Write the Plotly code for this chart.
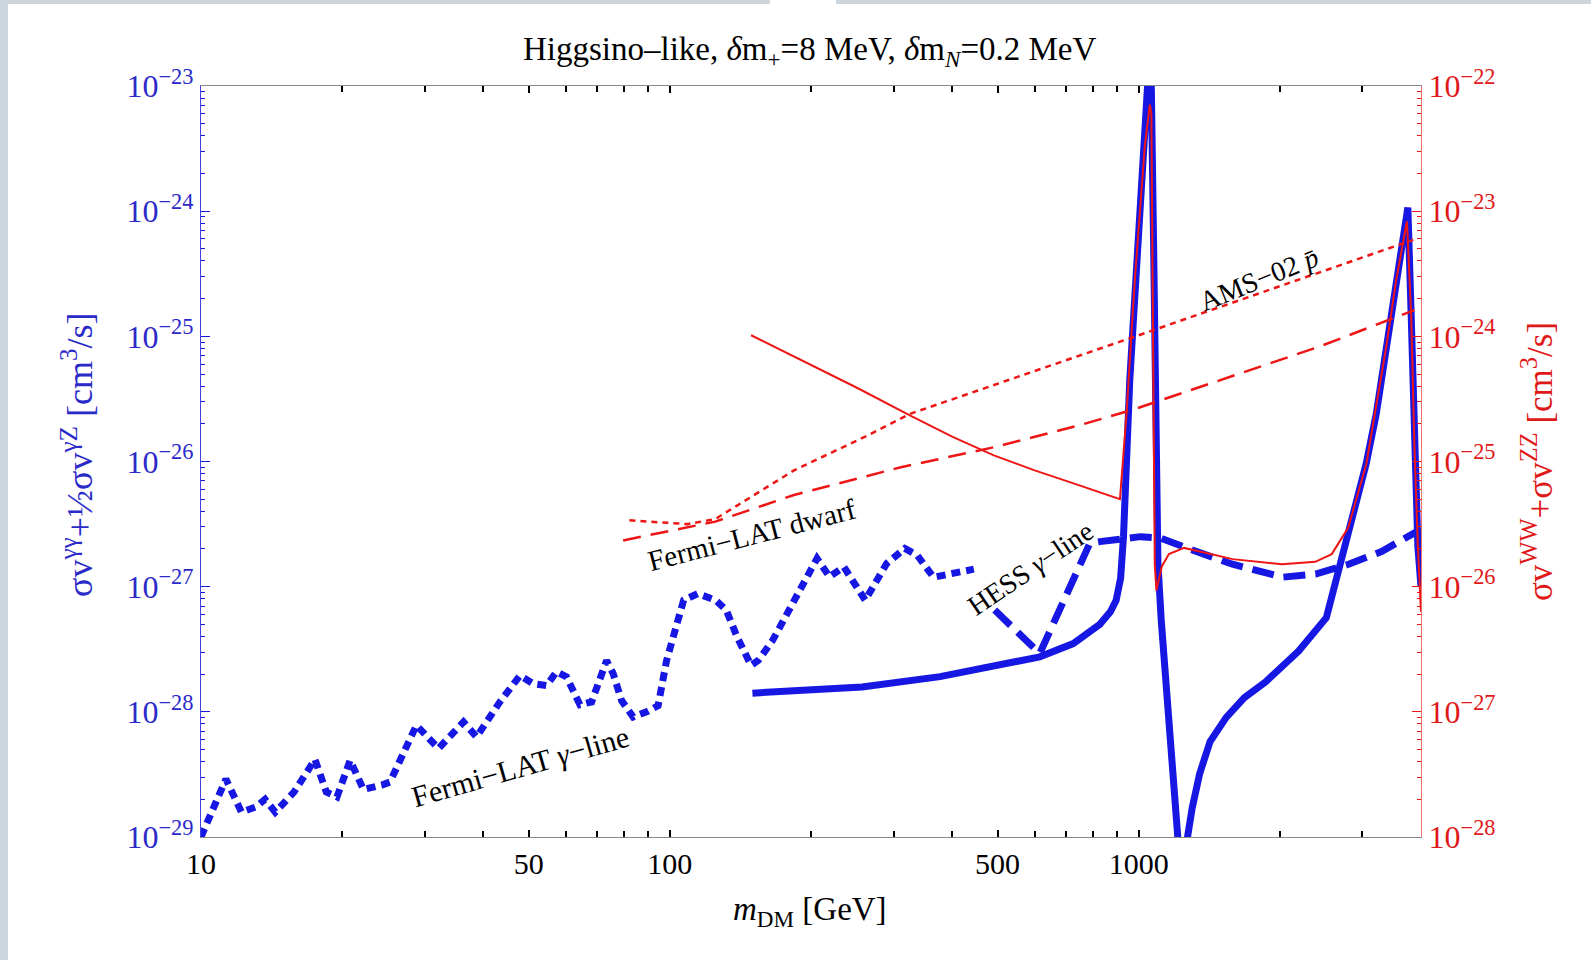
import plotly.graph_objects as go

# ---------------- data ----------------
# Fermi-LAT gamma-line limit (left axis)
fermi_line_x = [10.0, 11.3, 12.2, 13.1, 13.7, 14.4, 15.8, 17.5, 18.5, 19.5, 20.8, 22.2, 24.3, 25.3,
                28.8, 32.1, 36.3, 38.7, 43.4, 47.9, 51.1, 54.6, 57.3, 60.2, 64.3, 68.1, 73.3, 75.7,
                78.9, 83.5, 89.2, 94.4, 98.4, 107, 114.7, 125.2, 131.9, 139, 149, 154.5, 165.7, 184,
                206, 219, 235, 261, 290, 317, 337, 365, 445]
fermi_line_y = [1.0e-29, 2.9e-29, 1.58e-29, 1.74e-29, 2.0e-29, 1.58e-29, 2.29e-29, 4.17e-29, 2.29e-29,
                2.09e-29, 4.1e-29, 2.4e-29, 2.6e-29, 2.75e-29, 7.8e-29, 5.1e-29, 8.3e-29, 6.3e-29,
                1.2e-28, 1.95e-28, 1.68e-28, 1.62e-28, 2.09e-28, 1.9e-28, 1.14e-28, 1.2e-28, 2.57e-28,
                2.02e-28, 1.23e-28, 9.1e-29, 1.0e-28, 1.12e-28, 2.57e-28, 7.8e-28, 8.8e-28, 7.8e-28,
                6.5e-28, 4.0e-28, 2.35e-28, 2.58e-28, 3.73e-28, 7.8e-28, 1.68e-27, 1.2e-27, 1.44e-27,
                7.8e-28, 1.53e-27, 2.02e-27, 1.78e-27, 1.19e-27, 1.38e-27]

# HESS gamma-line limit (left axis)
hess_x = [493, 615, 786, 826, 1009, 1111, 1265, 1585, 2027, 2384, 2803, 3296, 3873, 4000]
hess_y = [6.5e-28, 2.92e-28, 2.21e-27, 2.29e-27, 2.51e-27, 2.45e-27, 2.04e-27, 1.51e-27,
          1.19e-27, 1.26e-27, 1.51e-27, 1.91e-27, 2.69e-27, 2.82e-27]

# Higgsino-like prediction, gamma-gamma + gamma-Z/2 (left axis)
higgsino_line_x = [150, 200, 257, 377, 481, 615, 725, 769, 826, 870, 895, 915, 928, 957, 997, 1038,
                   1060, 1076, 1087, 1099, 1117, 1211, 1240, 1271, 1300, 1349, 1420, 1537, 1680,
                   1866, 2193, 2513, 2638, 2772, 2911, 3057, 3212, 3373, 3541, 3750, 3811, 3873,
                   3939, 4000]
higgsino_line_y = [1.41e-28, 1.48e-28, 1.58e-28, 1.91e-28, 2.29e-28, 2.75e-28, 3.51e-28, 4.1e-28,
                   5.0e-28, 6.3e-28, 7.76e-28, 1.17e-27, 2.51e-27, 4.47e-26, 5.19e-25, 6.03e-24,
                   2.5e-23, 5.19e-25, 2.45e-26, 1.53e-27, 5.37e-28, 1.0e-29, 3.2e-30, 1.0e-29,
                   1.7e-29, 3.21e-29, 5.8e-29, 9.03e-29, 1.3e-28, 1.74e-28, 3.06e-28, 5.65e-28,
                   1.12e-27, 2.34e-27, 4.34e-27, 9.64e-27, 2.42e-26, 8.32e-26, 2.82e-25, 1.07e-24,
                   1.51e-25, 1.32e-26, 2.09e-27, 1.0e-27]

# Higgsino-like prediction, WW + ZZ (right axis)
higgsino_ww_x = [149, 200, 250, 325, 400, 491, 600, 700, 800, 870, 912, 942, 981, 1030, 1056, 1064,
                 1072, 1082, 1091, 1120, 1160, 1250, 1350, 1585, 2023, 2380, 2580, 2797, 3057,
                 3373, 3541, 3733, 3811, 3873, 3939, 4000]
higgsino_ww_y = [1.02e-24, 5.9e-25, 3.9e-25, 2.34e-25, 1.58e-25, 1.12e-25, 8.5e-26, 7.0e-26,
                 5.9e-26, 5.3e-26, 5.0e-26, 2.42e-25, 2.82e-24, 3.27e-23, 7.1e-23, 6.0e-23, 1.51e-24,
                 1.51e-26, 9.3e-27, 1.45e-26, 1.82e-26, 2.04e-26, 1.91e-26, 1.66e-26, 1.51e-26,
                 1.58e-26, 1.82e-26, 2.95e-26, 9.5e-26, 8.3e-25, 2.82e-24, 8.3e-24, 1.51e-24,
                 1.32e-25, 2.09e-26, 6.3e-27]

# AMS-02 antiproton limit (right axis)
ams_x = [82, 109, 125, 184, 261, 325, 1000, 2432, 3850]
ams_y = [3.39e-26, 3.16e-26, 3.47e-26, 8.5e-26, 1.58e-25, 2.4e-25, 1.02e-24, 3.24e-24, 5.9e-24]

# Fermi-LAT dwarf limit (right axis)
dwarf_x = [79.5, 125, 184, 311, 491, 748, 974, 2432, 3873]
dwarf_y = [2.34e-26, 3.31e-26, 5.4e-26, 9.0e-26, 1.3e-25, 1.95e-25, 2.6e-25, 8.3e-25, 1.62e-24]

# ticks
x_tick_vals = [10, 50, 100, 500, 1000]
x_tick_text = ["10", "50", "100", "500", "1000"]
left_exponents = [-29, -28, -27, -26, -25, -24, -23]
right_exponents = [-28, -27, -26, -25, -24, -23, -22]

# ---------------- styling ----------------
FONT = "Liberation Serif, Times New Roman, serif"
BLUE = "#1717e3"
BLUE_TXT = "#2a2ac8"
RED = "#ee1515"
RED_TXT = "#e01818"
W, H = 1591, 960
PL, PR, PT, PB = 201, 1421, 86, 837   # plot-area pixel edges


def xp(px):
    return (px - PL) / (PR - PL)


def yp(py):
    return (PB - py) / (PB - PT)


def minor_vals(lo, hi):
    return [m * 10.0 ** e for e in range(lo, hi) for m in range(2, 10)]


fig = go.Figure()

fig.add_trace(go.Scatter(x=fermi_line_x, y=fermi_line_y, mode="lines", yaxis="y",
                         line=dict(color=BLUE, width=7, dash="9px,6px")))
fig.add_trace(go.Scatter(x=hess_x, y=hess_y, mode="lines", yaxis="y",
                         line=dict(color=BLUE, width=7, dash="22px,10px")))
fig.add_trace(go.Scatter(x=higgsino_line_x, y=higgsino_line_y, mode="lines", yaxis="y",
                         line=dict(color=BLUE, width=7)))
fig.add_trace(go.Scatter(x=ams_x, y=ams_y, mode="lines", yaxis="y2",
                         line=dict(color=RED, width=2.5, dash="6px,5px")))
fig.add_trace(go.Scatter(x=dwarf_x, y=dwarf_y, mode="lines", yaxis="y2",
                         line=dict(color=RED, width=2.5, dash="18px,10px")))
fig.add_trace(go.Scatter(x=higgsino_ww_x, y=higgsino_ww_y, mode="lines", yaxis="y2",
                         line=dict(color=RED, width=2)))

x_minor = [v for v in minor_vals(1, 4) if v < 4000 and v not in (50, 500)]

fig.update_layout(
    width=W, height=H,
    margin=dict(l=PL, r=W - PR, t=PT, b=H - PB, pad=0),
    paper_bgcolor="white", plot_bgcolor="white",
    showlegend=False,
    font=dict(family=FONT, size=28, color="black"),
    xaxis=dict(type="log", range=[1, 3.60206], showgrid=False, zeroline=False,
               showline=True, linecolor="#8a8a8a", linewidth=1.2, mirror="ticks",
               ticks="inside", ticklen=7, tickwidth=1.5, tickcolor="black",
               tickvals=x_tick_vals, ticktext=x_tick_text,
               tickfont=dict(family=FONT, size=30, color="black"),
               minor=dict(ticks="inside", ticklen=6, tickwidth=1.5, tickcolor="black",
                          tickvals=x_minor, showgrid=False)),
    yaxis=dict(type="log", range=[-29, -23], showgrid=False, zeroline=False,
               showline=True, linecolor="#4040e0", linewidth=1.2,
               ticks="inside", ticklen=9, tickwidth=1.2, tickcolor=BLUE,
               tickvals=[10.0 ** e for e in left_exponents],
               ticktext=["10<sup>\u2212%d</sup>" % (-e) for e in left_exponents],
               tickfont=dict(family=FONT, size=32, color=BLUE_TXT),
               minor=dict(ticks="inside", ticklen=4, tickwidth=1, tickcolor=BLUE,
                          tickvals=minor_vals(-29, -23), showgrid=False)),
    yaxis2=dict(type="log", range=[-28, -22], overlaying="y", side="right",
                showgrid=False, zeroline=False,
                showline=True, linecolor="#f07070", linewidth=1.2,
                ticks="inside", ticklen=9, tickwidth=1.2, tickcolor=RED,
                tickvals=[10.0 ** e for e in right_exponents],
                ticktext=["10<sup>\u2212%d</sup>" % (-e) for e in right_exponents],
                tickfont=dict(family=FONT, size=32, color=RED_TXT),
                minor=dict(ticks="inside", ticklen=4, tickwidth=1, tickcolor=RED,
                           tickvals=minor_vals(-28, -22), showgrid=False)),
)

# grey page border (left strip and top strip with a gap)
band = "rgb(205,214,221)"
shapes = [
    dict(type="rect", xref="paper", yref="paper", x0=xp(0), x1=xp(8), y0=yp(H), y1=yp(0),
         fillcolor=band, line=dict(width=0), layer="below"),
    dict(type="rect", xref="paper", yref="paper", x0=xp(0), x1=xp(770), y0=yp(4), y1=yp(0),
         fillcolor=band, line=dict(width=0), layer="below"),
    dict(type="rect", xref="paper", yref="paper", x0=xp(836), x1=xp(W), y0=yp(4), y1=yp(0),
         fillcolor=band, line=dict(width=0), layer="below"),
]
fig.update_layout(shapes=shapes)


def ann(text, x, y, size=28, color="black", angle=0):
    fig.add_annotation(text=text, xref="paper", yref="paper", x=xp(x), y=yp(y),
                       xanchor="center", yanchor="middle", showarrow=False,
                       textangle=angle, font=dict(family=FONT, size=size, color=color))


ann("Higgsino\u2013like, <i>\u03b4</i>m<sub>+</sub>=8 MeV, <i>\u03b4</i>m<sub><i>N</i></sub>=0.2 MeV",
    810, 52, size=33)
ann("<i>m</i><sub>DM</sub> [GeV]", 810, 911, size=33)
ann("\u03c3v<sup>\u03b3\u03b3</sup>+\u00bd\u03c3v<sup>\u03b3Z</sup> [cm<sup>3</sup>/s]",
    78, 455, size=36, color=BLUE_TXT, angle=-90)
ann("\u03c3v<sup>WW</sup>+\u03c3v<sup>ZZ</sup> [cm<sup>3</sup>/s]",
    1537, 462, size=35, color=RED_TXT, angle=-90)
ann("Fermi\u2212LAT <i>\u03b3</i>\u2212line", 520, 766, size=30, angle=-16)
ann("Fermi\u2212LAT dwarf", 751, 535, size=29, angle=-14.5)
ann("HESS <i>\u03b3</i>\u2212line", 1030, 568, size=28, angle=-34)
ann("AMS\u221202 <i>p\u0304</i>", 1258, 279, size=28, angle=-22)

fig.write_html("out.html")
